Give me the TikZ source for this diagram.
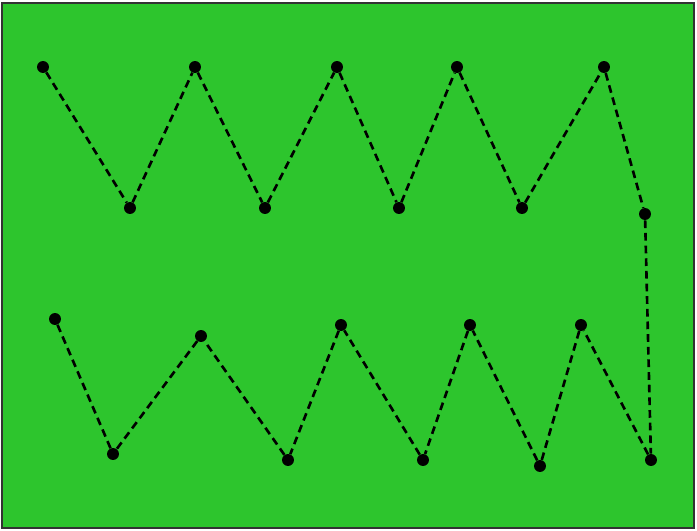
\documentclass[tikz,border=0pt]{standalone}
\usepackage{tikz}
\definecolor{fieldgreen}{RGB}{45,197,45}
\tikzset{
  dot/.style={circle, fill=black, inner sep=0pt, minimum size=6.8pt},
  route/.style={black, line width=1.5pt, dash pattern=on 4.4pt off 2.8pt}
}

\begin{document}
\begin{tikzpicture}[x=0.02cm, y=-0.02cm]
  \useasboundingbox (0,0) rectangle (697,531);
  \fill[white] (0,0) rectangle (697,531);
  \draw[fill=fieldgreen, line width=0.8pt, draw=black!80] (2,3) rectangle (694,528);

  % cones, in the order they are run
  \foreach \i/\x/\y in {1/43/67, 2/130/208, 3/195/67, 4/265/208, 5/337/67,
                        6/399/208, 7/457/67, 8/522/208, 9/604/67, 10/645/214,
                        11/651/460, 12/581/325, 13/540/466, 14/470/325, 15/423/460,
                        16/341/325, 17/288/460, 18/201/336, 19/113/454, 20/55/319}
    \node[dot] (c\i) at (\x,\y) {};

  \foreach \a [evaluate=\a as \b using int(\a+1)] in {1,...,19}
    \draw[route] (c\a) -- (c\b);
\end{tikzpicture}
\end{document}
